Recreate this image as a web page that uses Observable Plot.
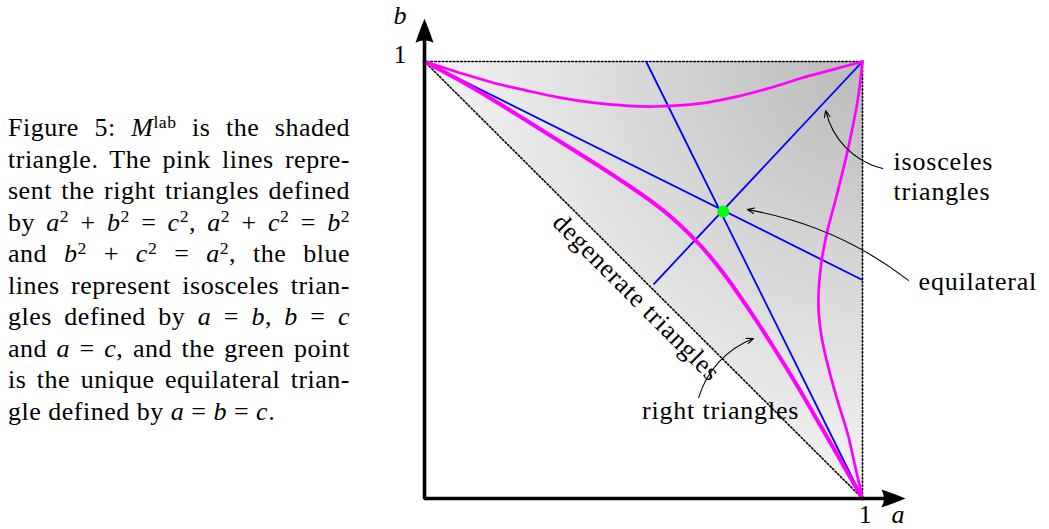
<!DOCTYPE html>
<html><head><meta charset="utf-8">
<script src="https://cdn.jsdelivr.net/npm/d3@7"></script>
<script src="https://cdn.jsdelivr.net/npm/@observablehq/plot@0.6"></script>
<style>
html,body{margin:0;padding:0;background:#fff;}
#wrap{position:relative;width:1049px;height:529px;overflow:hidden;background:#fff;}
#chart{position:absolute;left:0;top:0;}
#caption{position:absolute;left:8px;top:112px;width:342px;font-family:"Liberation Serif",serif;font-size:26px;line-height:31.5px;color:#000;letter-spacing:0.5px;}
#caption div{text-align:justify;text-align-last:justify;white-space:nowrap;}
#caption div.last{text-align-last:left;}
#caption .sup{font-size:0.68em;position:relative;top:-0.48em;line-height:0;}
</style></head>
<body>
<div id="wrap">
<div id="chart"></div>
<div id="caption">
<div>Figure 5: <i>M</i><span class="sup">lab</span> is the shaded</div>
<div>triangle. The pink lines repre-</div>
<div>sent the right triangles defined</div>
<div>by <i>a</i><span class="sup">2</span> + <i>b</i><span class="sup">2</span> = <i>c</i><span class="sup">2</span>, <i>a</i><span class="sup">2</span> + <i>c</i><span class="sup">2</span> = <i>b</i><span class="sup">2</span></div>
<div>and <i>b</i><span class="sup">2</span> + <i>c</i><span class="sup">2</span> = <i>a</i><span class="sup">2</span>, the blue</div>
<div>lines represent isosceles trian-</div>
<div>gles defined by <i>a</i> = <i>b</i>, <i>b</i> = <i>c</i></div>
<div>and <i>a</i> = <i>c</i>, and the green point</div>
<div>is the unique equilateral trian-</div>
<div class="last">gle defined by <i>a</i> = <i>b</i> = <i>c</i>.</div>
</div>
</div>
<script>
// ---- data (a, b in units of the plane) ----
// shaded triangle M^lab : between the degenerate line and b = 1, for a in [0,1]
const regionA = [0, 1];
const regionLowB = [1, 0];
const regionHighB = [1, 1];
// dotted boundary polyline
const edgeA = [1, 0, 1, 1];
const edgeB = [0, 1, 1, 0];
// blue isosceles lines (b = c, a = c, a = b)
const isoName = ["b = c", "a = c", "a = b"];
const isoA1 = [0, 0.506, 0.523];
const isoB1 = [1, 1, 0.490];
const isoA2 = [1, 1, 1];
const isoB2 = [0.5, 0, 1];
// pink right-triangle curves
const abA = [0, 0.078, 0.155, 0.231, 0.306, 0.384, 0.444, 0.515, 0.579, 0.630, 0.683, 0.733, 0.790, 0.847, 0.904, 0.950, 1];
const abB = [1, 0.958, 0.913, 0.866, 0.819, 0.770, 0.731, 0.682, 0.630, 0.579, 0.515, 0.444, 0.357, 0.265, 0.167, 0.087, 0];
const acA = [0, 0.078, 0.155, 0.231, 0.306, 0.384, 0.459, 0.527, 0.630, 0.705, 0.783, 0.858, 0.934, 1];
const acB = [1, 0.975, 0.952, 0.934, 0.918, 0.906, 0.899, 0.897, 0.904, 0.918, 0.938, 0.961, 0.982, 1];
const bcA = [1, 0.989, 0.966, 0.941, 0.920, 0.906, 0.900, 0.900, 0.906, 0.922, 0.943, 0.966, 0.984, 1];
const bcB = [1, 0.911, 0.796, 0.693, 0.613, 0.540, 0.476, 0.426, 0.373, 0.300, 0.224, 0.149, 0.071, 0];
// equilateral point
const eqA = [0.682];
const eqB = [0.657];
// axes
const axisA = [1.06, 0, 0];
const axisB = [0, 0, 1.06];
const axisEnd = 1.098;
// axis labels
const tickText = ["1", "1"];
const tickA = [-0.055, 1.007];
const tickB = [1.014, -0.038];
const axisNameText = ["b", "a"];
const axisNameA = [-0.055, 1.082];
const axisNameB = [1.104, -0.038];
// annotations
const noteText = ["isosceles\ntriangles", "equilateral", "right triangles"];
const noteA = [1.071, 1.128, 0.676];
const noteB = [0.739, 0.499, 0.201];
const noteArrowA1 = [1.046, 1.105, 0.626];
const noteArrowB1 = [0.755, 0.499, 0.231];
const noteArrowA2 = [0.916, 0.737, 0.751];
const noteArrowB2 = [0.888, 0.661, 0.366];
const noteBend = [32, -14, 26];
const degenText = ["degenerate triangles"];
const degenA = [0.484];
const degenB = [0.460];

// ---- build ----
const F = "Liberation Serif";
const idx = (arr) => arr.map((_, i) => i);
const upHead = {draw(c) { c.moveTo(0, 0); c.bezierCurveTo(3, 7, 6, 15, 9, 24); c.quadraticCurveTo(0, 19, -9, 24); c.bezierCurveTo(-6, 15, -3, 7, 0, 0); c.closePath(); }};
const rightHead = {draw(c) { c.moveTo(0, 0); c.bezierCurveTo(-7, 3, -15, 6, -24, 9); c.quadraticCurveTo(-19, 0, -24, -9); c.bezierCurveTo(-15, -6, -7, -3, 0, 0); c.closePath(); }};
const noteArrows = idx(noteText).map((k) =>
  Plot.arrow([k], {x1: (i) => noteArrowA1[i], y1: (i) => noteArrowB1[i], x2: (i) => noteArrowA2[i], y2: (i) => noteArrowB2[i], bend: noteBend[k], stroke: "black", strokeWidth: 1.1, headLength: 10, headAngle: 45})
);

const plot = Plot.plot({
  width: 1049, height: 529,
  marginLeft: 424, marginRight: 187, marginTop: 61, marginBottom: 31,
  x: {domain: [0, 1], axis: null},
  y: {domain: [0, 1], axis: null},
  style: {background: "transparent", letterSpacing: "0.8px"},
  marks: [
    Plot.areaY(idx(regionA), {x: (i) => regionA[i], y1: (i) => regionLowB[i], y2: (i) => regionHighB[i], fill: "url(#shade)"}),
    Plot.line(idx(edgeA), {x: (i) => edgeA[i], y: (i) => edgeB[i], stroke: "black", strokeWidth: 1.6, strokeDasharray: "1.6 2.1"}),
    Plot.link(idx(isoName), {x1: (i) => isoA1[i], y1: (i) => isoB1[i], x2: (i) => isoA2[i], y2: (i) => isoB2[i], stroke: "#0000ff", strokeWidth: 1.8}),
    Plot.line(idx(acA), {x: (i) => acA[i], y: (i) => acB[i], stroke: "#ff00ff", strokeWidth: 2.7, curve: "catmull-rom"}),
    Plot.line(idx(bcA), {x: (i) => bcA[i], y: (i) => bcB[i], stroke: "#ff00ff", strokeWidth: 2.7, curve: "catmull-rom"}),
    Plot.line(idx(abA), {x: (i) => abA[i], y: (i) => abB[i], stroke: "#ff00ff", strokeWidth: 4, curve: "catmull-rom"}),
    Plot.dot(idx(eqA), {x: (i) => eqA[i], y: (i) => eqB[i], r: 6, fill: "#00ff00", stroke: "none"}),
    Plot.line(idx(axisA), {x: (i) => axisA[i], y: (i) => axisB[i], stroke: "black", strokeWidth: 3.6, strokeLinejoin: "miter", strokeLinecap: "butt"}),
    Plot.dot([0], {x: () => 0, y: () => axisEnd, symbol: upHead, fill: "black", stroke: "none"}),
    Plot.dot([0], {x: () => axisEnd, y: () => 0, symbol: rightHead, fill: "black", stroke: "none"}),
    Plot.text(idx(tickText), {x: (i) => tickA[i], y: (i) => tickB[i], text: (i) => tickText[i], fontFamily: F, fontSize: 25, fill: "black"}),
    Plot.text(idx(axisNameText), {x: (i) => axisNameA[i], y: (i) => axisNameB[i], text: (i) => axisNameText[i], fontFamily: F, fontSize: 26, fontStyle: "italic", fill: "black"}),
    Plot.text([0, 1], {x: (i) => noteA[i], y: (i) => noteB[i], text: (i) => noteText[i], fontFamily: F, fontSize: 26, textAnchor: "start", lineHeight: 1.16, fill: "black"}),
    Plot.text([2], {x: (i) => noteA[i], y: (i) => noteB[i], text: (i) => noteText[i], fontFamily: F, fontSize: 26, textAnchor: "middle", fill: "black"}),
    ...noteArrows,
    Plot.text(idx(degenText), {x: (i) => degenA[i], y: (i) => degenB[i], text: (i) => degenText[i], fontFamily: F, fontSize: 26, rotate: 45, fill: "black"})
  ]
});

// radial shading centred on the (1,1) corner, placed through the plot's own scales
const xs = plot.scale("x"), ys = plot.scale("y");
const cx = xs.apply(1), cy = ys.apply(1), rr = xs.apply(1) - xs.apply(0);
const defs = document.createElementNS("http://www.w3.org/2000/svg", "defs");
defs.innerHTML = `<radialGradient id="shade" gradientUnits="userSpaceOnUse" cx="${cx}" cy="${cy}" r="${rr}"><stop offset="0" stop-color="#bababa"/><stop offset="1" stop-color="#f5f5f5"/></radialGradient>`;
plot.insertBefore(defs, plot.firstChild);
document.getElementById("chart").appendChild(plot);
</script>
</body></html>
